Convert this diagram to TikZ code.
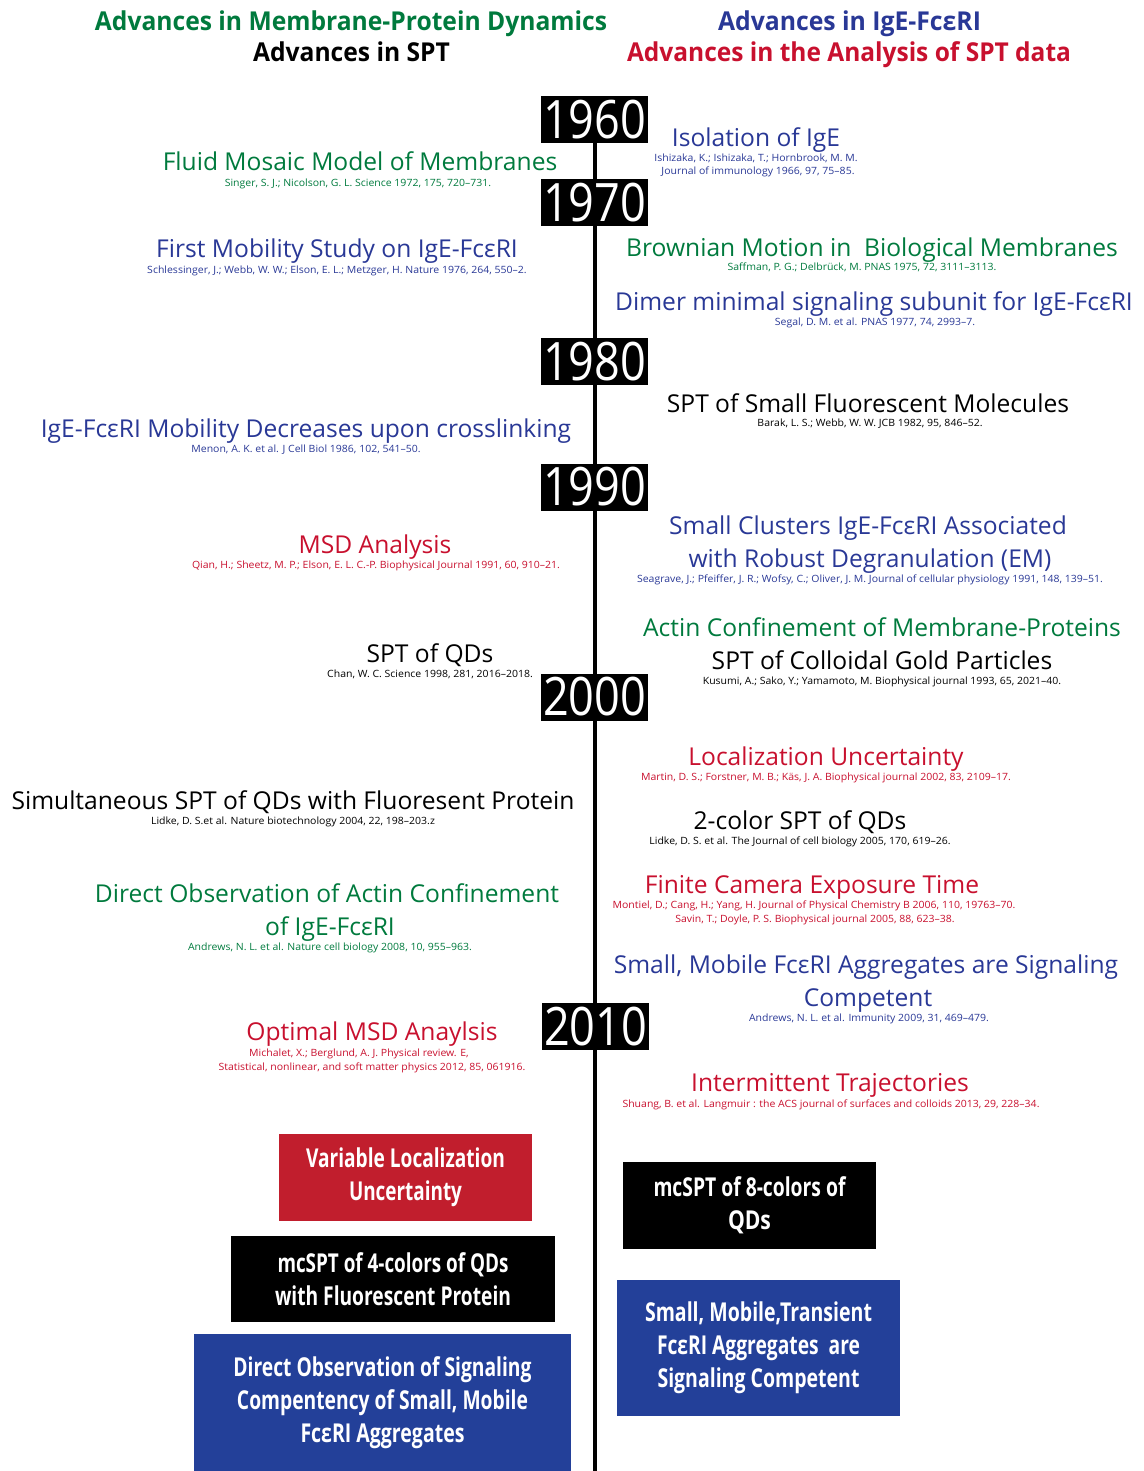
\documentclass[tikz,border=0pt]{standalone}
\usepackage{fontspec}
\setmainfont{Open Sans}
\usepackage{graphicx}
\definecolor{grn}{RGB}{0,122,61}
\definecolor{blu}{RGB}{41,56,150}
\definecolor{rd}{RGB}{200,16,46}
\definecolor{boxred}{RGB}{193,30,45}
\definecolor{boxblue}{RGB}{35,64,153}
\newcommand{\fitw}[3]{\resizebox{#1pt}{\height}{\fontsize{#2}{#2}\selectfont #3}}
\newcommand{\ttlsx}{1.0}
\newcommand{\citsx}{1.05}
\newcommand{\ttl}[1]{\scalebox{\ttlsx}[1]{\fontsize{24.6}{28}\selectfont #1}}
\newcommand{\cit}[1]{\scalebox{\citsx}[1]{\fontsize{10}{11}\selectfont #1}}
\begin{document}
\begin{tikzpicture}[x=1pt,y=-1pt,
  every node/.style={inner sep=0pt,outer sep=0pt},
  tx/.style={anchor=base},
  yearbox/.style={fill=black,text=white,minimum width=107pt,minimum height=47pt},
  fbox/.style={text=white,align=center,font=\fontsize{26}{33}\selectfont\bfseries},
  tline/.style={line width=4pt,black}]
\useasboundingbox (0,0) rectangle (1143,1471);
% headers
\node[tx,text=grn] (h1) at (351,31) {\fitw{512}{26}{\bfseries Advances in Membrane-Protein Dynamics}};
\node[tx,text=black] (h2) at (351.5,62) {\fitw{197}{26}{\bfseries Advances in SPT}};
\node[tx,text=blu] (h3) at (849.5,31) {\fitw{263}{26}{\bfseries Advances in IgE-FcεRI}};
\node[tx,text=rd] (h4) at (849,62) {\fitw{444}{26}{\bfseries Advances in the Analysis of SPT data}};
% year boxes
\node[yearbox] (y1960) at (594.5,119.5) {\fitw{103}{53}{1960}};
\node[yearbox] (y1970) at (594.5,202.5) {\fitw{103}{53}{1970}};
\node[yearbox] (y1980) at (594.5,361.5) {\fitw{103}{53}{1980}};
\node[yearbox] (y1990) at (594.5,487) {\fitw{103}{53}{1990}};
\node[yearbox] (y2000) at (594.5,697) {\fitw{103}{53}{2000}};
\node[yearbox] (y2010) at (595.5,1026.5) {\fitw{103}{53}{2010}};
\coordinate (bot) at (594.5,1471);
\draw[tline] (y1960) -- (y1970);
\draw[tline] (y1970) -- (y1980);
\draw[tline] (y1980) -- (y1990);
\draw[tline] (y1990) -- (y2000);
\draw[tline] (y2000) -- (y2010.north -| y2000.south);
\draw[tline] (y2010.south -| y2000.south) -- (bot);
% items
\node[tx,text=grn] (t1) at (360,171) {\ttl{Fluid Mosaic Model of Membranes}};
\node[tx,text=grn] (c1) at (358,187) {\cit{Singer, S. J.; Nicolson, G. L. Science 1972, 175, 720–731.}};
\node[tx,text=blu] (t2) at (756,147) {\ttl{Isolation of IgE}};
\node[tx,text=blu] (c2a) at (756,162) {\cit{Ishizaka, K.; Ishizaka, T.; Hornbrook, M. M.}};
\node[tx,text=blu] (c2b) at (758,175) {\cit{Journal of immunology 1966, 97, 75–85.}};
\node[tx,text=blu] (t3) at (337,258) {\ttl{First Mobility Study on IgE-FcεRI}};
\node[tx,text=blu] (c3) at (337,273) {\cit{Schlessinger, J.; Webb, W. W.; Elson, E. L.; Metzger, H. Nature 1976, 264, 550–2.}};
\node[tx,text=grn] (t4) at (872,256) {\ttl{Brownian Motion in\ \ Biological Membranes}};
\node[tx,text=grn] (c4) at (862,270) {\cit{Saffman, P. G.; Delbrück, M. PNAS 1975, 72, 3111–3113.}};
\node[tx,text=blu] (t5) at (874,310) {\ttl{Dimer minimal signaling subunit for IgE-FcεRI}};
\node[tx,text=blu] (c5) at (875,325) {\cit{Segal, D. M. et al. PNAS 1977, 74, 2993–7.}};
\node[tx,text=black] (t6) at (868,412) {\ttl{SPT of Small Fluorescent Molecules}};
\node[tx,text=black] (c6) at (870,426) {\cit{Barak, L. S.; Webb, W. W. JCB 1982, 95, 846–52.}};
\node[tx,text=blu] (t7) at (306,437) {\ttl{IgE-FcεRI Mobility Decreases upon crosslinking}};
\node[tx,text=blu] (c7) at (306,452) {\cit{Menon, A. K. et al. J Cell Biol 1986, 102, 541–50.}};
\node[tx,text=rd] (t8) at (375,553) {\ttl{MSD Analysis}};
\node[tx,text=rd] (c8) at (376,568) {\cit{Qian, H.; Sheetz, M. P.; Elson, E. L. C.-P. Biophysical Journal 1991, 60, 910–21.}};
\node[tx,text=blu] (t9a) at (868,534) {\ttl{Small Clusters IgE-FcεRI Associated}};
\node[tx,text=blu] (t9b) at (870,567) {\ttl{with Robust Degranulation (EM)}};
\node[tx,text=blu] (c9) at (870,582) {\cit{Seagrave, J.; Pfeiffer, J. R.; Wofsy, C.; Oliver, J. M. Journal of cellular physiology 1991, 148, 139–51.}};
\node[tx,text=grn] (t10) at (882,636) {\ttl{Actin Confinement of Membrane-Proteins}};
\node[tx,text=black] (t11) at (882,669) {\ttl{SPT of Colloidal Gold Particles}};
\node[tx,text=black] (c11) at (882,684) {\cit{Kusumi, A.; Sako, Y.; Yamamoto, M. Biophysical journal 1993, 65, 2021–40.}};
\node[tx,text=black] (t12) at (430,662) {\ttl{SPT of QDs}};
\node[tx,text=black] (c12) at (430,677) {\cit{Chan, W. C. Science 1998, 281, 2016–2018.}};
\node[tx,text=rd] (t13) at (826,765) {\ttl{Localization Uncertainty}};
\node[tx,text=rd] (c13) at (826,780) {\cit{Martin, D. S.; Forstner, M. B.; Käs, J. A. Biophysical journal 2002, 83, 2109–17.}};
\node[tx,text=black] (t14) at (293,809) {\ttl{Simultaneous SPT of QDs with Fluoresent Protein}};
\node[tx,text=black] (c14) at (293,824) {\cit{Lidke, D. S.et al. Nature biotechnology 2004, 22, 198–203.z}};
\node[tx,text=black] (t15) at (800,829) {\ttl{2-color SPT of QDs}};
\node[tx,text=black] (c15) at (800,844) {\cit{Lidke, D. S. et al. The Journal of cell biology 2005, 170, 619–26.}};
\node[tx,text=grn] (t16a) at (327,902) {\ttl{Direct Observation of Actin Confinement}};
\node[tx,text=grn] (t16b) at (330,935) {\ttl{of IgE-FcεRI}};
\node[tx,text=grn] (c16) at (330,950) {\cit{Andrews, N. L. et al. Nature cell biology 2008, 10, 955–963.}};
\node[tx,text=rd] (t17) at (812,893) {\ttl{Finite Camera Exposure Time}};
\node[tx,text=rd] (c17a) at (814,908) {\cit{Montiel, D.; Cang, H.; Yang, H. Journal of Physical Chemistry B 2006, 110, 19763–70.}};
\node[tx,text=rd] (c17b) at (815,922) {\cit{Savin, T.; Doyle, P. S. Biophysical journal 2005, 88, 623–38.}};
\node[tx,text=blu] (t18a) at (866,973) {\ttl{Small, Mobile FcεRI Aggregates are Signaling}};
\node[tx,text=blu] (t18b) at (868,1006) {\ttl{Competent}};
\node[tx,text=blu] (c18) at (869,1021) {\cit{Andrews, N. L. et al. Immunity 2009, 31, 469–479.}};
\node[tx,text=rd] (t19) at (372,1040) {\ttl{Optimal MSD Anaylsis}};
\node[tx,text=rd] (c19a) at (359,1056) {\cit{Michalet, X.; Berglund, A. J. Physical review. E,}};
\node[tx,text=rd] (c19b) at (372,1070) {\cit{Statistical, nonlinear, and soft matter physics 2012, 85, 061916.}};
\node[tx,text=rd] (t20) at (830,1091) {\ttl{Intermittent Trajectories}};
\node[tx,text=rd] (c20) at (831,1107) {\cit{Shuang, B. et al. Langmuir : the ACS journal of surfaces and colloids 2013, 29, 228–34.}};
% bottom boxes
\node[fbox,fill=boxred,minimum width=253pt,minimum height=87pt] (b1) at (405.5,1177.5)
  {\fitw{199}{26}{Variable Localization}\\\fitw{113}{26}{Uncertainty}};
\node[fbox,fill=black,minimum width=324pt,minimum height=86pt] (b2) at (393,1279)
  {\fitw{231}{26}{mcSPT of 4-colors of QDs}\\\fitw{236}{26}{with Fluorescent Protein}};
\node[fbox,fill=boxblue,minimum width=377pt,minimum height=137pt] (b3) at (382.5,1402.5)
  {\fitw{298}{26}{Direct Observation of Signaling}\\\fitw{291}{26}{Compentency of Small, Mobile}\\\fitw{164}{26}{FcεRI Aggregates}};
\node[fbox,fill=black,minimum width=253pt,minimum height=87pt] (b4) at (749.5,1205.5)
  {\fitw{192}{26}{mcSPT of 8-colors of}\\\fitw{43}{26}{QDs}};
\node[fbox,fill=boxblue,minimum width=283pt,minimum height=136pt] (b5) at (758.5,1348)
  {\fitw{227}{26}{Small, Mobile,Transient}\\\fitw{203}{26}{FcεRI Aggregates\ \ are}\\\fitw{202}{26}{Signaling Competent}};
\end{tikzpicture}
\end{document}
